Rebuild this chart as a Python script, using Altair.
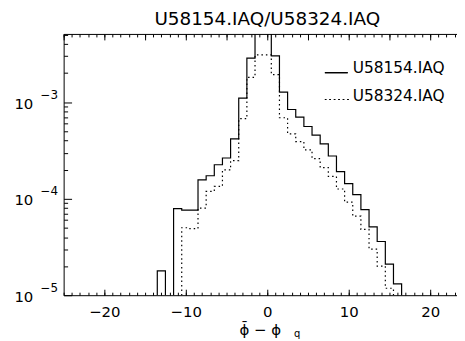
import altair as alt
import pandas as pd

# ---- data (bin centres, unit-width bins) ----
bin_centers = list(range(-14, 18))
solid_vals = [None, 1.79e-5, None, 7.9e-5, 7.6e-5, 7.6e-5, 1.57e-4, 1.73e-4,
              2.25e-4, 2.64e-4, 4.17e-4, 1.10e-3, 2.86e-3, 8.0e-3, 8.0e-3,
              3.02e-3, 1.27e-3, 8.4e-4, 7.0e-4, 5.6e-4, 4.55e-4, 3.7e-4,
              2.77e-4, 1.91e-4, 1.43e-4, 1.10e-4, 7.7e-5, 5.1e-5, 3.6e-5,
              2.1e-5, 1.31e-5, None]
dotted_vals = [None, None, None, None, 5.0e-5, 4.9e-5, 8.0e-5, 1.19e-4,
               1.34e-4, 1.99e-4, 2.48e-4, 6.75e-4, 1.81e-3, 3.09e-3, 3.09e-3,
               1.93e-3, 6.9e-4, 4.7e-4, 3.9e-4, 3.2e-4, 2.6e-4, 2.1e-4,
               1.7e-4, 1.26e-4, 9.2e-5, 6.6e-5, 4.8e-5, 3.0e-5, 2.0e-5,
               1.18e-5, None, None]
series_names = ["U58154.IAQ", "U58324.IAQ"]
title_text = ["U58154.IAQ/U58324.IAQ"]

x_label_vals = [-20, -10, 0, 10, 20]
x_bottom_major = [-20, -10, 0, 10, 20]
x_top_major = [-25, -20, -15, -10, -5, 0, 5, 10, 15, 20]
x_minor = list(range(-25, 24))
y_major = [1e-5, 1e-4, 1e-3]
y_minor = [m * 10.0 ** e for e in (-5, -4, -3) for m in range(2, 10) if m * 10.0 ** e < 5.1e-3]

FLOOR = 1e-8


def steps(vals):
    edges = [c - 0.5 for c in bin_centers] + [bin_centers[-1] + 0.5]
    v = [FLOOR if a is None else a for a in vals] + [FLOOR]
    return pd.DataFrame({"x": edges, "y": v})


df_s = steps(solid_vals)
df_d = steps(dotted_vals)

xs = alt.Scale(domain=[-25, 23.3], nice=False, zero=False)
ys = alt.Scale(type="log", domain=[1e-5, 5.1e-3], nice=False)

FONT = "DejaVu Sans"
common = dict(grid=False, title=None, domainColor="black", tickColor="black",
              labelColor="black", labelFont=FONT, domainWidth=1, tickWidth=1)

exp_expr = "'−' + (-round(log(datum.value)/LN10))"

# main data layers
solid = alt.Chart(df_s).mark_line(interpolate="step-after", color="black",
                                  strokeWidth=1.2, clip=True).encode(
    x=alt.X("x:Q", scale=xs, axis=alt.Axis(orient="bottom", values=x_label_vals,
                                           ticks=False, labelFontSize=15, labelPadding=9,
                                           labelFlush=False, **common)),
    y=alt.Y("y:Q", scale=ys, axis=alt.Axis(orient="left", values=y_major, ticks=False,
                                           labelExpr="'10'", labelFontSize=15,
                                           labelPadding=31, labelOffset=1,
                                           labelFlush=False, **common)),
)

dotted = alt.Chart(df_d).mark_line(interpolate="step-after", color="black",
                                   strokeWidth=1.2, strokeDash=[1.5, 3], clip=True).encode(
    x=alt.X("x:Q", scale=xs, axis=alt.Axis(orient="bottom", values=x_bottom_major,
                                           labels=False, domain=False, tickSize=6,
                                           offset=-6, **common)),
    y=alt.Y("y:Q", scale=ys, axis=alt.Axis(orient="left", values=y_major, labels=False,
                                           domain=False, tickSize=8, offset=-8, **common)),
)

minor = alt.Chart(df_s).mark_point(opacity=0).encode(
    x=alt.X("x:Q", scale=xs, axis=alt.Axis(orient="bottom", values=x_minor, labels=False,
                                           domain=False, tickSize=3, offset=-3, **common)),
    y=alt.Y("y:Q", scale=ys, axis=alt.Axis(orient="left", values=y_minor, labels=False,
                                           domain=False, tickSize=4, offset=-4, **common)),
)

top_major = alt.Chart(df_s).mark_point(opacity=0).encode(
    x=alt.X("x:Q", scale=xs, axis=alt.Axis(orient="top", values=x_top_major, labels=False,
                                           domain=False, tickSize=6, offset=-6, **common)),
    y=alt.Y("y:Q", scale=ys, axis=alt.Axis(orient="left", values=y_major, ticks=False,
                                           domain=False, labelExpr=exp_expr,
                                           labelFontSize=12, labelPadding=6,
                                           labelOffset=-8, labelFlush=False, **common)),
)
top_minor = alt.Chart(df_s).mark_point(opacity=0).encode(
    x=alt.X("x:Q", scale=xs, axis=alt.Axis(orient="top", values=x_minor, labels=False,
                                           domain=False, tickSize=3, offset=-3, **common)),
    y=alt.Y("y:Q", scale=ys, axis=None),
)
top_dom = alt.Chart(df_s).mark_point(opacity=0).encode(
    x=alt.X("x:Q", scale=xs, axis=alt.Axis(orient="top", ticks=False, labels=False,
                                           domain=True, **common)),
    y=alt.Y("y:Q", scale=ys, axis=None),
)

# legend
leg = pd.DataFrame({"name": series_names})
leg_solid_line = alt.Chart(leg).mark_rule(color="black", strokeWidth=1.2).encode(
    x=alt.value(263), x2=alt.value(286), y=alt.value(39))
leg_dot_line = alt.Chart(leg).mark_rule(color="black", strokeWidth=1.2,
                                        strokeDash=[1.5, 3]).encode(
    x=alt.value(263), x2=alt.value(288), y=alt.value(66))
leg_t1 = alt.Chart(pd.DataFrame({"name": [series_names[0]]})).mark_text(
    align="left", baseline="alphabetic", fontSize=15.5, font=FONT, color="black").encode(
    x=alt.value(291), y=alt.value(39.5), text="name:N")
leg_t2 = alt.Chart(pd.DataFrame({"name": [series_names[1]]})).mark_text(
    align="left", baseline="alphabetic", fontSize=15.5, font=FONT, color="black").encode(
    x=alt.value(291), y=alt.value(67.5), text="name:N")

# chart title as text
title_mark = alt.Chart(pd.DataFrame({"t": title_text})).mark_text(
    align="center", baseline="alphabetic", fontSize=18.5, font=FONT, color="black").encode(
    x=alt.value(205), y=alt.value(-9), text="t:N")

# x-axis title  (phi-bar minus phi_q)
xt_main = alt.Chart(pd.DataFrame({"t": ["ϕ̄   −   ϕ"]})).mark_text(
    align="center", baseline="alphabetic", fontSize=15, font=FONT, color="black").encode(
    x=alt.value(198), y=alt.value(303), text="t:N")
xt_sub = alt.Chart(pd.DataFrame({"t": ["q"]})).mark_text(
    align="left", baseline="alphabetic", fontSize=10, font=FONT, color="black").encode(
    x=alt.value(232), y=alt.value(305), text="t:N")

chart = alt.layer(
    solid, dotted, minor, top_major, top_minor, top_dom,
    leg_solid_line, leg_dot_line, leg_t1, leg_t2, title_mark, xt_main, xt_sub,
).resolve_axis(x="independent", y="independent").properties(
    width=396, height=263,
    autosize=alt.AutoSizeParams(type="none"),
    padding={"left": 56, "top": 25, "right": 0, "bottom": 45},
).configure_view(stroke=None)

chart.save("out.html", embed_options={"renderer": "svg", "actions": False})
